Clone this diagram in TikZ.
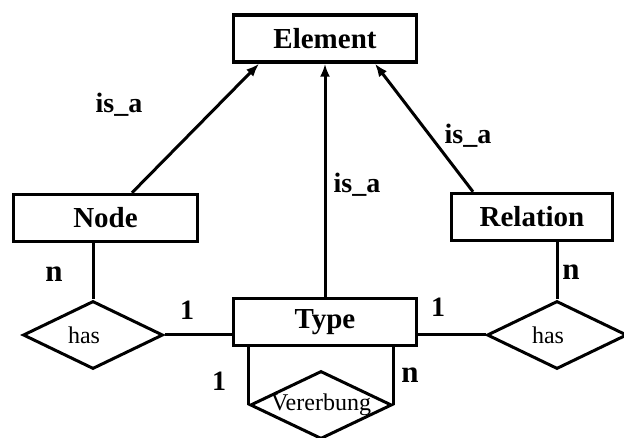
\documentclass[tikz,border=0pt]{standalone}
\usepackage{fontspec}
\setmainfont{Liberation Serif}
\usetikzlibrary{shapes.geometric,arrows.meta}
\tikzset{
  entity/.style={draw, line width=3.5pt, minimum width=183pt, minimum height=47pt,
    inner sep=0pt, font=\fontsize{29}{31}\selectfont\bfseries},
  relship/.style={draw, diamond, line width=3pt, shape aspect=2.09, minimum width=140pt,
    minimum height=68pt, inner sep=0pt, font=\fontsize{24}{26}\selectfont},
  hastext/.style={label={[inner sep=0pt, font=\fontsize{24}{26}\selectfont, xshift=-9pt]center:has}},
  card/.style={inner sep=0pt, anchor=base, font=\fontsize{28}{30}\selectfont\bfseries},
  many/.style={card, font=\fontsize{31}{33}\selectfont\bfseries},
}
\begin{document}
\begin{tikzpicture}[x=1pt, y=-1pt, >={Latex[length=13pt,width=10pt]}, line width=3pt]
    \useasboundingbox (0,0) rectangle (624,438);
    % entities
    \node[entity] (element) at (325,38.5) {Element};
    \node[entity, minimum width=184pt] (node) at (105.5,218) {Node};
    \node[entity, minimum width=161pt] (relation) at (532,217) {Relation};
    \node[entity] (type) at (325,322) {Type};
    % relationships
    \node[relship, hastext] (hasnode) at (93,335) {};
    \node[relship, hastext] (hasrel) at (557,335) {};
    \node[relship, inner xsep=-2pt] (vererbung) at (321,405) {Vererbung};
    % is_a arrows up to Element
    \draw[->] ([xshift=26.5pt]node.north) -- ([xshift=-66pt]element.south);
    \draw[->] (type.north) -- (element.south);
    \draw[->] ([xshift=-59pt]relation.north) -- ([xshift=50pt]element.south);
    % has / Vererbung links
    \draw (node.south -| hasnode.north) -- (hasnode.north);
    \draw (hasnode.east) -- (hasnode.east -| type.west);
    \draw (type.east |- hasrel.west) -- (hasrel.west);
    \draw (relation.south -| hasrel.north) -- (hasrel.north);
    \draw (vererbung.west |- type.south) -- (vererbung.west);
    \draw (vererbung.east |- type.south) -- (vererbung.east);
    % labels
    \node[card] (isanode) at (119,113) {is\_a};
    \node[card] (isatype) at (357,193) {is\_a};
    \node[card] (isarel) at (468,144) {is\_a};
    \node[many] (cardnode) at (54,282) {n};
    \node[card] (cardhasnode) at (187,320) {1};
    \node[card] (cardhasrel) at (438,317) {1};
    \node[many] (cardrel) at (571,280) {n};
    \node[card] (cardsuper) at (219,390) {1};
    \node[many] (cardsub) at (410,382) {n};
\end{tikzpicture}
\end{document}
